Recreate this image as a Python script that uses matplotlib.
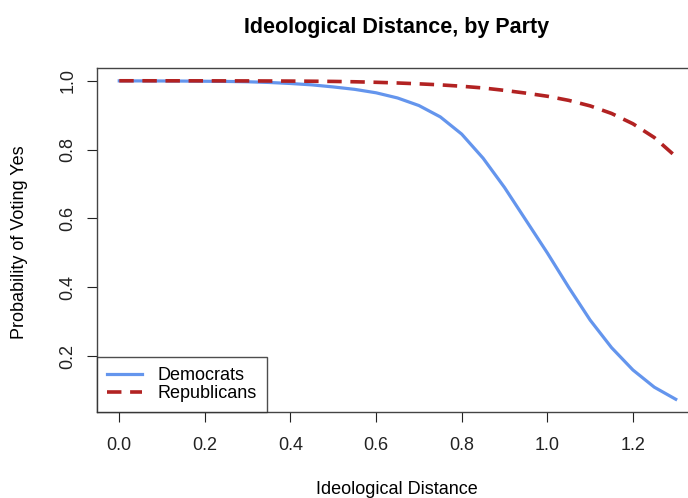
import numpy as np
from matplotlib import pyplot as plt

plt.rcParams['font.family'] = ['Liberation Sans', 'DejaVu Sans']

# values
dist = [0.0, 0.05, 0.1, 0.15, 0.2, 0.25, 0.3, 0.35, 0.4, 0.45, 0.5, 0.55, 0.6,
        0.65, 0.7, 0.75, 0.8, 0.85, 0.9, 0.95, 1.0, 1.05, 1.1, 1.15, 1.2, 1.25, 1.3]
dem = [0.9996, 0.9995, 0.9993, 0.999, 0.9985, 0.998, 0.997, 0.995, 0.992, 0.988,
       0.982, 0.975, 0.965, 0.95, 0.928, 0.895, 0.845, 0.775, 0.69, 0.595, 0.50,
       0.40, 0.305, 0.225, 0.16, 0.11, 0.075]
rep = [0.9999, 0.9999, 0.9998, 0.9998, 0.9997, 0.9996, 0.9995, 0.9993, 0.999, 0.9986,
       0.998, 0.997, 0.9955, 0.9935, 0.991, 0.988, 0.984, 0.979, 0.972, 0.964, 0.955,
       0.943, 0.927, 0.905, 0.875, 0.835, 0.78]

fig = plt.figure(figsize=(6.88, 4.98), dpi=100)
ax = fig.add_axes([97/688, 86/498, 601/688, 344/498])

ax.plot(dist, dem, color='#6495ED', lw=2.3, label='Democrats')
ax.plot(dist, rep, color='#B22222', lw=2.6, dashes=(4, 2.4), label='Republicans')

xr = 1.3 * 0.04
ax.set_xlim(-xr, 1.3 + xr)
yr = (1.0 - 0.075) * 0.04
ax.set_ylim(0.075 - yr, 1.0 + yr)

ax.set_xticks([0.0, 0.2, 0.4, 0.6, 0.8, 1.0, 1.2])
ax.set_xticklabels(['0.0', '0.2', '0.4', '0.6', '0.8', '1.0', '1.2'])
ax.set_yticks([0.2, 0.4, 0.6, 0.8, 1.0])
ax.set_yticklabels(['0.2', '0.4', '0.6', '0.8', '1.0'], rotation=90, va='center')
ax.tick_params(direction='out', length=7, width=0.8, labelsize=13, pad=11, colors='#222222')
ax.tick_params(axis='y', pad=8)
for s in ax.spines.values():
    s.set_color('#444444')
    s.set_linewidth(1.0)

leg = ax.legend(loc='lower left', borderaxespad=0, fancybox=False, fontsize=13,
                handlelength=1.95, labelspacing=0.05, borderpad=0.55, handletextpad=0.85)
leg.get_frame().set_edgecolor('#222222')
leg.get_frame().set_linewidth(1.0)

fig.text(397/688, 1 - 28/498, 'Ideological Distance, by Party', ha='center', va='center',
         fontsize=15.5, fontweight='bold')
fig.text(397/688, 1 - 489/498, 'Ideological Distance', ha='center', va='center', fontsize=13)
fig.text(20/688, 1 - 242/498, 'Probability of Voting Yes', ha='center', va='center',
         rotation=90, fontsize=13)

fig.savefig('out.png', dpi=100)
